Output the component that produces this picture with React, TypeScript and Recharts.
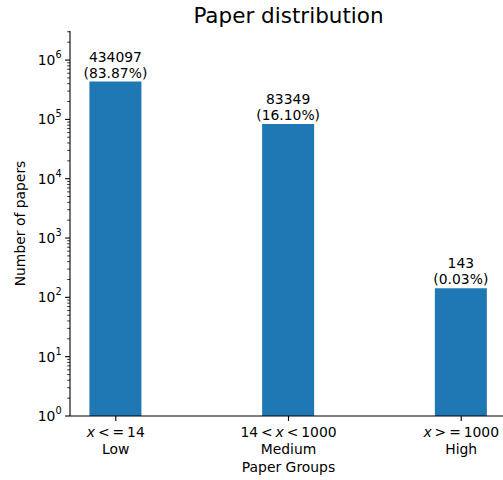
import { Bar, BarChart, LabelList, XAxis, YAxis } from 'recharts';

const groups = ['Low', 'Medium', 'High'];
const ranges = ['x < = 14', '14 < x < 1000', 'x > = 1000'];
const counts = [434097, 83349, 143];
const shares = ['83.87%', '16.10%', '0.03%'];

const FONT = '"DejaVu Sans", sans-serif';
const BLUE = '#1f77b4';
const Y_MAX = Math.pow(10, 6.49);

const chartData = groups.map((g, i) => ({
  idx: i,
  group: g,
  range: ranges[i],
  count: counts[i],
  share: shares[i],
}));

// log ticks: 1..9 x 10^k, majors get labels
const yTicks: number[] = [];
for (let k = 0; k <= 6; k++) {
  for (let m = 1; m <= 9; m++) {
    const v = m * Math.pow(10, k);
    if (v <= Y_MAX) yTicks.push(v);
  }
}

function YTick(props: any) {
  const { x, y, payload } = props;
  const lg = Math.log10(payload.value);
  const major = Math.abs(lg - Math.round(lg)) < 1e-6;
  return (
    <g>
      <line x1={x - (major ? 4.9 : 2.8)} x2={x} y1={y} y2={y} stroke="#000" strokeWidth={major ? 1.1 : 0.8} />
      {major && (
        <text x={x - 8.4} y={y + 5} textAnchor="end" fontSize={13.9} fontFamily={FONT} fill="#000">
          <tspan>10</tspan>
          <tspan dy={-7} fontSize={9.7}>
            {Math.round(lg)}
          </tspan>
        </text>
      )}
    </g>
  );
}

function XTick(props: any) {
  const { x, y, payload } = props;
  const i = payload.value as number;
  const parts = ranges[i].split('x');
  return (
    <g>
      <line x1={x} x2={x} y1={y} y2={y + 4.9} stroke="#000" strokeWidth={1.1} />
      <text
        x={x}
        y={y + 21}
        textAnchor="middle"
        fontSize={13.9}
        fontFamily={FONT}
        fill="#000"
        style={{ wordSpacing: '-1.5px' }}
      >
        {parts.map((p, j) => (
          <tspan key={j}>
            {j > 0 && <tspan fontStyle="italic">x</tspan>}
            {p}
          </tspan>
        ))}
      </text>
      <text x={x} y={y + 38} textAnchor="middle" fontSize={13.9} fontFamily={FONT} fill="#000">
        {groups[i]}
      </text>
    </g>
  );
}

function BarLabel(props: any) {
  const { x, y, width, index } = props;
  const cx = x + width / 2;
  return (
    <g>
      <text x={cx} y={y - 20} textAnchor="middle" fontSize={13.9} fontFamily={FONT} fill="#000">
        {counts[index]}
      </text>
      <text x={cx} y={y - 4} textAnchor="middle" fontSize={13.9} fontFamily={FONT} fill="#000">
        ({shares[index]})
      </text>
    </g>
  );
}

export default function App() {
  return (
    <div style={{ position: 'absolute', left: 0, top: 0, width: 503, height: 480, overflow: 'hidden', background: '#fff' }}>
      <BarChart width={520} height={480} data={chartData} margin={{ top: 31, right: 13, left: 0, bottom: 0 }}>
        <XAxis
          dataKey="idx"
          type="number"
          domain={[-0.265, 2.265]}
          ticks={[0, 1, 2]}
          allowDataOverflow
          height={64}
          tickSize={0}
          tickMargin={0}
          tick={<XTick />}
          axisLine={{ stroke: '#000', strokeWidth: 1.1 }}
        />
        <XAxis
          xAxisId="top"
          orientation="top"
          type="number"
          domain={[-0.265, 2.265]}
          height={0}
          tick={false}
          tickLine={false}
          axisLine={{ stroke: '#000', strokeWidth: 1.1 }}
        />
        <YAxis
          scale="log"
          type="number"
          domain={[1, Y_MAX]}
          allowDataOverflow
          ticks={yTicks}
          interval={0}
          width={70}
          tickSize={0}
          tickMargin={0}
          tick={<YTick />}
          axisLine={{ stroke: '#000', strokeWidth: 1.1 }}
        />
        <YAxis
          yAxisId="right"
          orientation="right"
          width={0}
          tick={false}
          tickLine={false}
          axisLine={{ stroke: '#000', strokeWidth: 1.1 }}
        />
        <Bar dataKey="count" fill={BLUE} barSize={52} isAnimationActive={false}>
          <LabelList dataKey="count" content={<BarLabel />} />
        </Bar>
        <text x={288.5} y={23} textAnchor="middle" fontSize={21.5} fontFamily={FONT} fill="#000">
          Paper distribution
        </text>
        <text
          x={25}
          y={223.5}
          transform="rotate(-90, 25, 223.5)"
          textAnchor="middle"
          fontSize={13.9}
          fontFamily={FONT}
          fill="#000"
        >
          Number of papers
        </text>
        <text x={288.5} y={472} textAnchor="middle" fontSize={13.9} fontFamily={FONT} fill="#000">
          Paper Groups
        </text>
      </BarChart>
    </div>
  );
}
